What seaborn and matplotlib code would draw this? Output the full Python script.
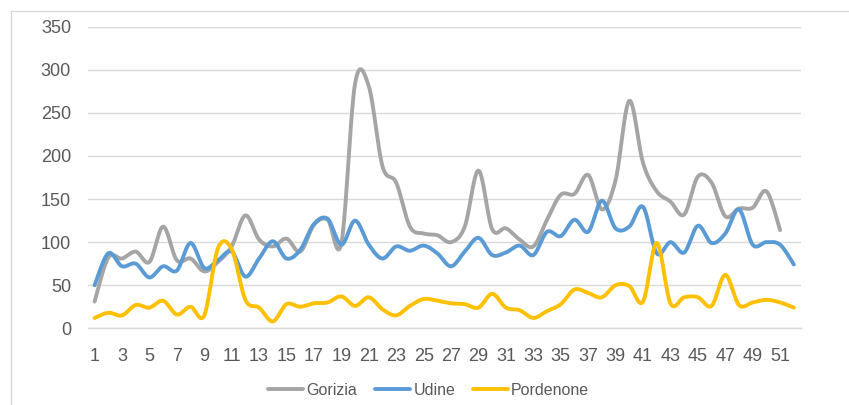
import numpy as np
import pandas as pd
import matplotlib
matplotlib.use("Agg")
import matplotlib.pyplot as plt
from matplotlib.lines import Line2D
from matplotlib.patches import Rectangle
import seaborn as sns

# Weekly values per province
gorizia = [31, 82, 81, 89, 77, 118, 79, 81, 66, 77, 95, 131, 103, 95, 104, 89,
           120, 126, 99, 284, 281, 188, 169, 118, 110, 108, 100, 118, 183, 115,
           116, 103, 95, 126, 155, 156, 178, 138, 172, 264, 192, 159, 147, 132,
           176, 169, 130, 139, 140, 159, 114]
udine = [50, 87, 72, 75, 59, 72, 67, 99, 70, 79, 89, 60, 81, 101, 81, 91, 121,
         127, 97, 125, 97, 81, 95, 90, 96, 87, 72, 89, 105, 85, 88, 96, 85, 112,
         107, 126, 112, 148, 116, 118, 141, 87, 100, 88, 119, 99, 110, 138, 97,
         100, 97, 74]
pordenone = [12, 18, 15, 27, 24, 32, 16, 25, 15, 93, 92, 33, 24, 8, 28, 25, 29,
             30, 37, 26, 36, 22, 15, 26, 34, 32, 29, 28, 24, 40, 24, 21, 12, 20,
             28, 45, 41, 36, 50, 49, 31, 99, 29, 36, 36, 26, 62, 27, 30, 33, 30, 24]

series_names = ["Gorizia", "Udine", "Pordenone"]
series_values = [gorizia, udine, pordenone]
series_colors = ["#A5A5A5", "#5B9BD5", "#FFC000"]
tick_weeks = list(range(1, 52, 2))


def smooth_curve(x, y, steps=20):
    """Bezier smoothing with Catmull-Rom style control points."""
    x = np.asarray(x, float)
    y = np.asarray(y, float)
    pts = np.column_stack([x, y])
    n = len(pts)
    out = []
    t = np.linspace(0, 1, steps, endpoint=False)[:, None]
    for i in range(n - 1):
        p0 = pts[max(i - 1, 0)]
        p1 = pts[i]
        p2 = pts[i + 1]
        p3 = pts[min(i + 2, n - 1)]
        c1 = p1 + (p2 - p0) / 6.0
        c2 = p2 - (p3 - p1) / 6.0
        seg = ((1 - t) ** 3) * p1 + 3 * ((1 - t) ** 2) * t * c1 \
            + 3 * (1 - t) * t ** 2 * c2 + t ** 3 * p2
        out.append(seg)
    out.append(pts[-1][None, :])
    out = np.vstack(out)
    return out[:, 0], out[:, 1]


sns.set_theme(style="white")
plt.rcParams["font.family"] = ["Liberation Sans", "DejaVu Sans"]

fig = plt.figure(figsize=(8.49, 4.05), dpi=100)
ax = fig.add_axes([0.1033, 0.1894, 0.8398, 0.7446])

text_color = "#595959"
grid_color = "#D9D9D9"

for name, vals, col in zip(series_names, series_values, series_colors):
    weeks = np.arange(1, len(vals) + 1)
    sx, sy = smooth_curve(weeks, vals)
    df = pd.DataFrame({"week": sx, "value": sy})
    sns.lineplot(data=df, x="week", y="value", ax=ax, color=col, linewidth=2.8,
                 sort=False, estimator=None, legend=False,
                 solid_capstyle="round")

ax.set_xlim(0.5, 52.5)
ax.set_ylim(0, 350)
ax.set_yticks(range(0, 351, 50))
ax.set_xticks(tick_weeks)
ax.set_xticklabels([str(w) for w in tick_weeks])
ax.set_xlabel("")
ax.set_ylabel("")
ax.grid(axis="y", color=grid_color, linewidth=1.0)
ax.grid(axis="x", visible=False)
ax.set_axisbelow(True)
for side in ["top", "right", "left"]:
    ax.spines[side].set_visible(False)
ax.spines["bottom"].set_color(grid_color)
ax.spines["bottom"].set_linewidth(1.0)
ax.tick_params(axis="both", length=0, labelsize=13, labelcolor=text_color)
ax.tick_params(axis="y", pad=12)
ax.tick_params(axis="x", pad=14)

handles = [Line2D([0], [0], color=c, linewidth=2.8) for c in series_colors]
fig.legend(handles, series_names, loc="center", bbox_to_anchor=(0.505, 0.037),
           ncol=3, frameon=False, fontsize=11.5, labelcolor=text_color,
           handlelength=2.2, handletextpad=0.2, columnspacing=1.1)

# Chart-area border
fig.patches.append(Rectangle((11 / 849, -0.1), 1.2, (405 - 11) / 405 + 0.1,
                             transform=fig.transFigure, fill=False,
                             edgecolor=grid_color, linewidth=1.0))

fig.savefig("out.png", dpi=100)
